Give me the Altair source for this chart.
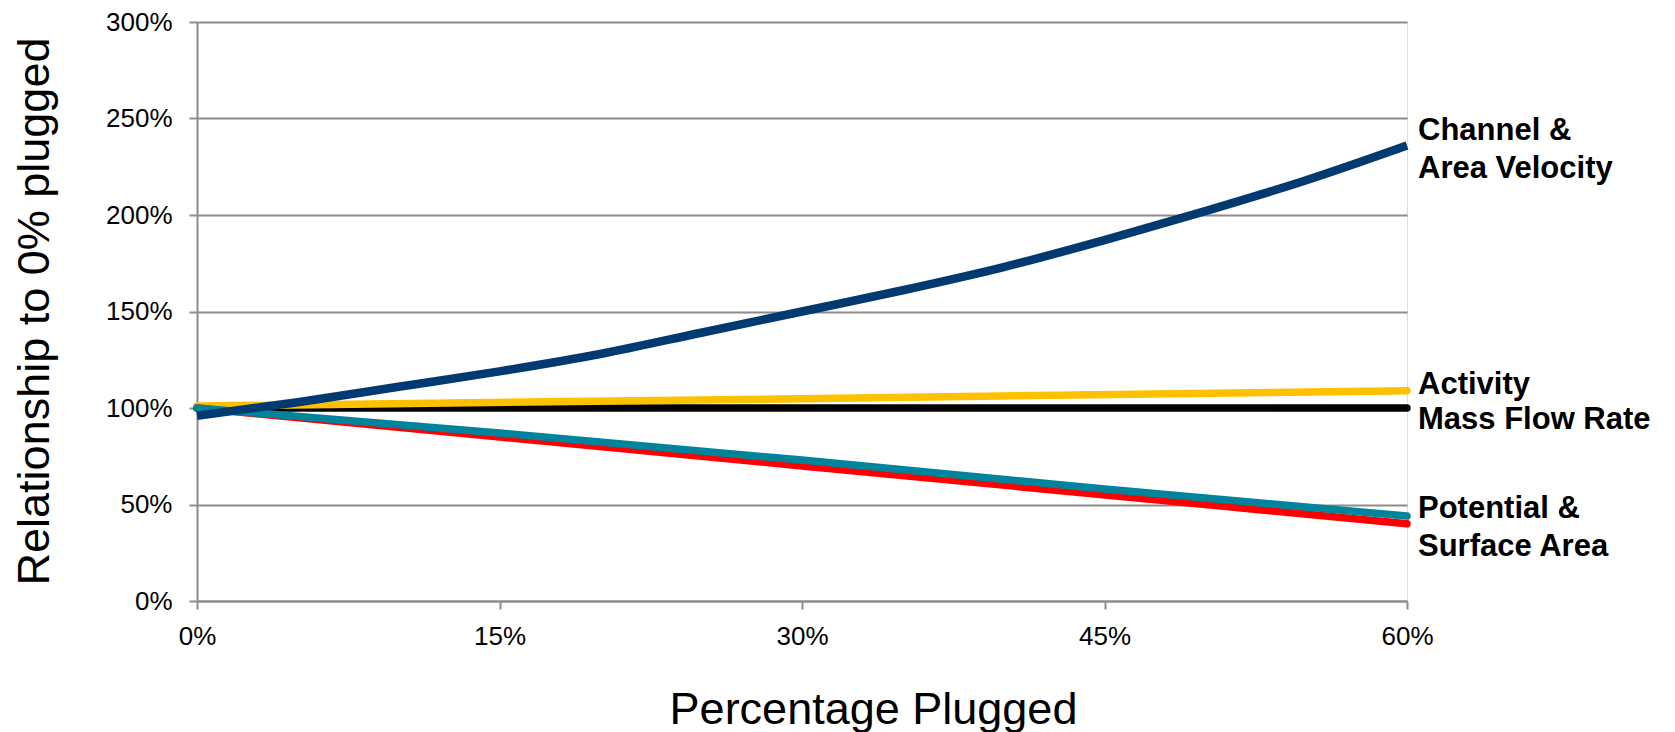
import altair as alt
import pandas as pd

# ---- data (percent plugged vs. relationship to 0% plugged, in %) ----
channel_x = [0, 5, 10, 15, 20, 25, 30, 35, 40, 45, 50, 55, 60]
channel_y = [96, 103, 111, 119, 128, 139, 150, 161, 173, 187, 202, 218, 236]

activity_x = [0, 30, 60]
activity_y = [101, 104.8, 109]

massflow_x = [0, 60]
massflow_y = [100, 100]

surface_x = [0, 30, 60]
surface_y = [100, 70, 40]

potential_x = [0, 15, 30, 45, 60]
potential_y = [100, 87, 73, 58, 44]

x_ticks = [0, 15, 30, 45, 60]
y_ticks = [0, 50, 100, 150, 200, 250, 300]

label_lines = ["Channel &", "Area Velocity", "Activity", "Mass Flow Rate", "Potential &", "Surface Area"]
label_x = [60, 60, 60, 60, 60, 60]
label_y = [239, 219.4, 107.4, 89, 42.8, 23.2]

# ---- build tables ----
rows = []
for name, xs, ys in [
    ("Mass Flow Rate", massflow_x, massflow_y),
    ("Activity", activity_x, activity_y),
    ("Surface Area", surface_x, surface_y),
    ("Potential", potential_x, potential_y),
    ("Channel & Area Velocity", channel_x, channel_y),
]:
    for xv, yv in zip(xs, ys):
        rows.append({"series": name, "x": xv, "y": yv})
df = pd.DataFrame(rows)
lab_df = pd.DataFrame({"label": label_lines, "x": label_x, "y": label_y})

FONT = "Liberation Sans"
GRID = "#8c8c8c"

x_enc = alt.X(
    "x:Q",
    scale=alt.Scale(domain=[0, 60], nice=False, zero=False),
    axis=alt.Axis(
        values=x_ticks,
        labelExpr="datum.value + '%'",
        grid=False,
        domainColor=GRID, domainWidth=2,
        tickColor=GRID, tickWidth=2, tickSize=8,
        labelFont=FONT, labelFontSize=26, labelColor="black",
        labelPadding=14, labelFlush=False, labelOverlap=False,
        title="Percentage Plugged",
        titleFont=FONT, titleFontSize=45, titleFontWeight="normal", titleColor="black",
        titleX=676, titleY=122, titleAlign="center", titleBaseline="alphabetic",
    ),
)
y_enc = alt.Y(
    "y:Q",
    scale=alt.Scale(domain=[0, 300], nice=False),
    axis=alt.Axis(
        values=y_ticks,
        labelExpr="datum.value + '%'",
        grid=True, gridColor=GRID, gridWidth=2,
        domainColor=GRID, domainWidth=2,
        tickColor=GRID, tickWidth=2, tickSize=8,
        labelFont=FONT, labelFontSize=26, labelColor="black",
        labelPadding=17, labelOverlap=False,
        title="Relationship to 0% plugged",
        titleFont=FONT, titleFontSize=45, titleFontWeight="normal", titleColor="black",
        titleX=-149, titleY=289, titleAngle=270, titleAlign="center", titleBaseline="alphabetic",
    ),
)

base = alt.Chart(df)
styles = [
    ("Mass Flow Rate", "#000000", 7.5, "round", "linear"),
    ("Activity", "#FFC000", 7.5, "round", "linear"),
    ("Surface Area", "#FF0000", 7.5, "round", "linear"),
    ("Potential", "#00849C", 7.5, "round", "linear"),
    ("Channel & Area Velocity", "#003A70", 8.5, "butt", "monotone"),
]
layers = []
for name, color, w, cap, interp in styles:
    layers.append(
        base.transform_filter(alt.datum.series == name)
        .mark_line(color=color, strokeWidth=w, strokeCap=cap, interpolate=interp)
        .encode(x=x_enc, y=y_enc)
    )

labels = alt.Chart(lab_df).mark_text(
    align="left", baseline="alphabetic", dx=11,
    font=FONT, fontSize=31, fontWeight="bold", color="black",
).encode(x=x_enc, y=y_enc, text="label:N")

chart = (
    alt.layer(*layers, labels)
    .properties(
        width=1210, height=579,
        autosize=alt.AutoSizeParams(type="none"),
        padding={"left": 189, "top": 14, "right": 260, "bottom": 140},
    )
    .configure_view(stroke=None)
    .configure(background="white")
)

chart.save("out.html", embed_options={"renderer": "svg", "actions": False})
